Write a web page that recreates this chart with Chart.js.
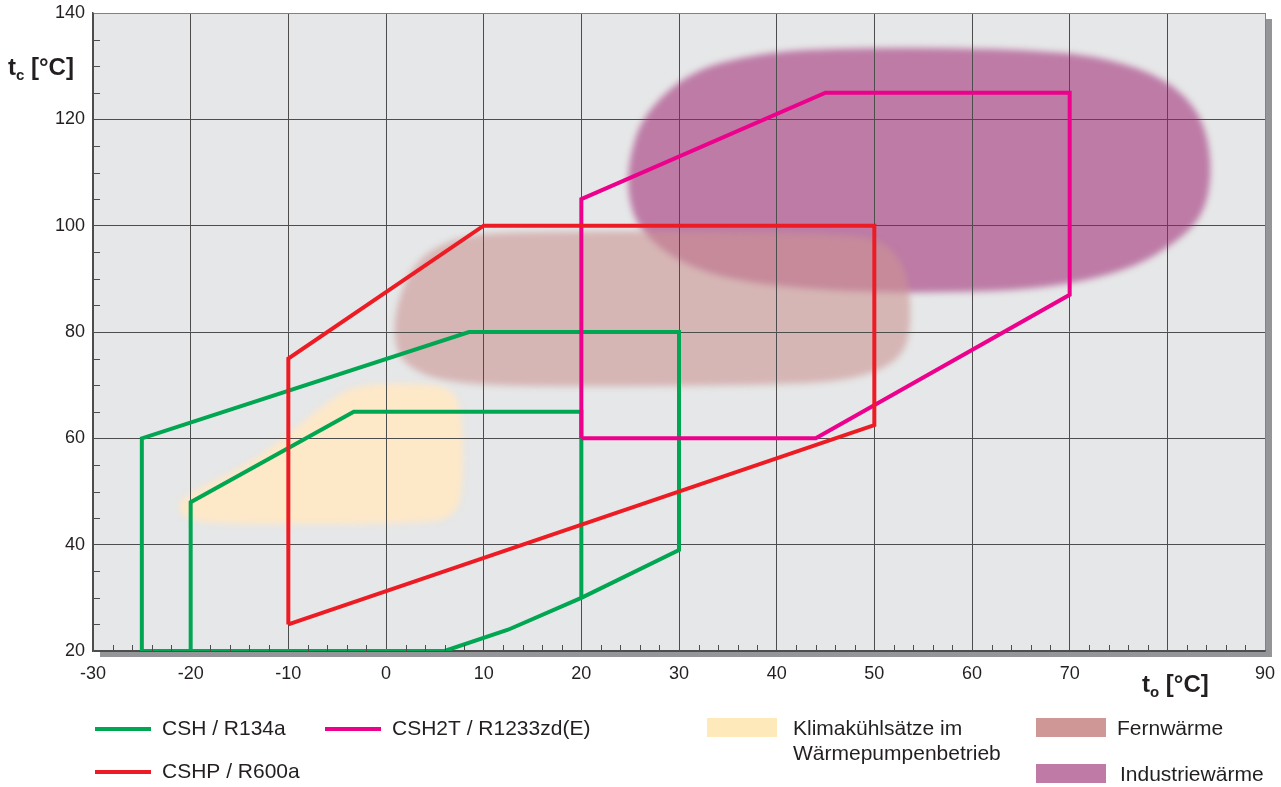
<!DOCTYPE html>
<html>
<head>
<meta charset="utf-8">
<script src="https://cdn.jsdelivr.net/npm/chart.js@4/dist/chart.umd.min.js"></script>
<style>
  html, body { margin: 0; padding: 0; background: #fff; }
  #wrap { position: relative; width: 1281px; height: 787px; }
</style>
</head>
<body>
<div id="wrap"><canvas id="c"></canvas></div>
<script>
// operating envelopes, points as [t_o, t_c]
const cshOuter = [[-25, 20], [-25, 60], [8.5, 80], [30, 80], [30, 39], [20, 30], [12.5, 24], [6, 20], [-25, 20]];
const cshInner = [[20, 30], [20, 65], [-3.3, 65], [-20, 48], [-20, 20]];
const cshp = [[-10, 25], [-10, 75], [10, 100], [50, 100], [50, 62.5], [-10, 25]];
const csh2t = [[20, 60], [20, 105], [45, 125], [70, 125], [70, 87], [44, 60], [20, 60]];

// application areas (outline of the soft blobs)
const industrie = [[24.8, 112], [26.3, 121], [31.3, 129.3], [38, 132.3], [44, 133.2], [55, 133.5], [67, 133], [74, 131.5],
  [80, 127.5], [83.5, 121], [84.6, 112], [84, 103], [81.5, 97.5], [76, 91.5], [67, 88], [55, 87.3], [45, 87.8],
  [36, 89.5], [30, 93], [26, 99], [24.8, 105]];
const fernwaerme = [[1, 85], [3, 93.5], [7, 97.8], [12, 98.8], [30, 99], [48, 98.5], [51.5, 96.5], [53.5, 91],
  [53.8, 80], [52.5, 74.5], [48, 71], [40, 70], [15, 69.7], [6, 70.5], [2, 73.5], [0.8, 78]];
const klima = [[-21.4, 47], [-20.5, 49.5], [-13, 56], [-5, 68.5], [-2, 70.2], [4, 70.3], [6.5, 69.5], [7.8, 66],
  [7.9, 50], [7, 45.5], [4.5, 44], [-17, 43.8], [-20.5, 44.8]];

const xMin = -30, xMax = 90, xStep = 10;
const yMin = 20, yMax = 140, yStep = 20;

const FONT = '"Liberation Sans", Arial, Helvetica, sans-serif';
const TXT = '#231f20';
const GREEN = '#00a651', RED = '#ed1c24', MAGENTA = '#ec008c';

const toPts = a => a.map(p => ({ x: p[0], y: p[1] }));

function lineDs(label, pts, color, order) {
  return { label, data: toPts(pts), borderColor: color, backgroundColor: color, borderWidth: 4,
    showLine: true, pointRadius: 0, fill: false, order, borderJoinStyle: 'miter', borderCapStyle: 'butt' };
}
function blobDs(label, pts, color) {
  return { label, data: toPts(pts), showLine: false, pointRadius: 0, blob: color, order: 10 };
}

// smooth closed path through the blob outline, placed with the chart's scales
function blobPath(ctx, pts) {
  const n = pts.length;
  const mid = (p, q) => [(p.x + q.x) / 2, (p.y + q.y) / 2];
  let m = mid(pts[n - 1], pts[0]);
  ctx.beginPath();
  ctx.moveTo(m[0], m[1]);
  for (let k = 0; k < n; k++) {
    const p = pts[k], q = pts[(k + 1) % n];
    m = mid(p, q);
    ctx.quadraticCurveTo(p.x, p.y, m[0], m[1]);
  }
  ctx.closePath();
}

const framePlugin = {
  id: 'frame',
  beforeDraw(chart) {
    const { ctx, chartArea: a } = chart;
    ctx.save();
    ctx.fillStyle = '#939598';
    ctx.fillRect(a.left + 7, a.top + 6, a.width, a.height);
    ctx.fillStyle = '#e6e7e8';
    ctx.fillRect(a.left, a.top, a.width, a.height);
    ctx.filter = 'blur(3px)';
    chart.data.datasets.forEach((ds, i) => {
      if (!ds.blob) return;
      blobPath(ctx, chart.getDatasetMeta(i).data);
      ctx.fillStyle = ds.blob;
      ctx.fill();
    });
    ctx.restore();
  },
  afterDraw(chart) {
    const { ctx, chartArea: a, scales } = chart;
    ctx.save();
    // minor ticks
    ctx.strokeStyle = '#4d4d4d';
    ctx.lineWidth = 1;
    ctx.beginPath();
    for (let v = xMin + 2; v < xMax; v += 2) {
      if (v % xStep === 0) continue;
      const px = Math.round(scales.x.getPixelForValue(v)) + 0.5;
      ctx.moveTo(px, a.bottom); ctx.lineTo(px, a.bottom - 6);
    }
    for (let v = yMin + 5; v < yMax; v += 5) {
      if (v % yStep === 0) continue;
      const py = Math.round(scales.y.getPixelForValue(v)) + 0.5;
      ctx.moveTo(a.left, py); ctx.lineTo(a.left + 7, py);
    }
    ctx.stroke();

    // axis titles with subscripts
    ctx.fillStyle = TXT;
    ctx.textBaseline = 'alphabetic';
    ctx.textAlign = 'left';
    const title = (x, y, main, sub) => {
      ctx.font = 'bold 24px ' + FONT;
      ctx.fillText(main, x, y);
      let w = ctx.measureText(main).width;
      ctx.font = 'bold 15px ' + FONT;
      ctx.fillText(sub, x + w, y + 5);
      w += ctx.measureText(sub).width;
      ctx.font = 'bold 24px ' + FONT;
      ctx.fillText(' [°C]', x + w, y);
    };
    title(8, 75, 't', 'c');
    title(1142, 692, 't', 'o');

    // legend
    ctx.font = '21px ' + FONT;
    ctx.textBaseline = 'middle';
    ctx.lineWidth = 4;
    const lineItem = (x, y, color, text) => {
      ctx.strokeStyle = color;
      ctx.beginPath(); ctx.moveTo(x, y); ctx.lineTo(x + 56, y); ctx.stroke();
      ctx.fillText(text, x + 67, y);
    };
    lineItem(95, 729, GREEN, 'CSH / R134a');
    lineItem(95, 772, RED, 'CSHP / R600a');
    lineItem(325, 729, MAGENTA, 'CSH2T / R1233zd(E)');
    const boxItem = (x, y, color, lines, tx) => {
      ctx.fillStyle = color;
      ctx.fillRect(x, y, 70, 19);
      ctx.fillStyle = TXT;
      lines.forEach((t, k) => ctx.fillText(t, tx, y + 11 + k * 25));
    };
    boxItem(707, 718, '#fde9b9', ['Klimakühlsätze im', 'Wärmepumpenbetrieb'], 793);
    boxItem(1036, 718, '#d09797', ['Fernwärme'], 1117);
    boxItem(1036, 764, '#bf7aa6', ['Industriewärme'], 1120);
    ctx.restore();
  }
};

const gridColor = edge => ctx => (ctx.tick && ctx.tick.value === edge ? '#808285' : '#4d4d4d');

new Chart(document.getElementById('c'), {
  type: 'scatter',
  data: {
    datasets: [
      lineDs('CSHP / R600a', cshp, RED, 0),
      lineDs('CSH2T / R1233zd(E)', csh2t, MAGENTA, 1),
      lineDs('CSH / R134a', cshOuter, GREEN, 2),
      lineDs('CSH / R134a', cshInner, GREEN, 2),
      blobDs('Industriewärme', industrie, '#bd7ba6'),
      blobDs('Fernwärme', fernwaerme, 'rgba(203,148,147,0.6)'),
      blobDs('Klimakühlsätze im Wärmepumpenbetrieb', klima, '#fde8c8')
    ]
  },
  options: {
    responsive: true,
    maintainAspectRatio: false,
    animation: false,
    events: [],
    layout: { padding: { top: 13, right: 16, left: 0, bottom: 0 } },
    plugins: { legend: { display: false }, tooltip: { enabled: false } },
    scales: {
      x: {
        type: 'linear', min: xMin, max: xMax,
        ticks: { stepSize: xStep, padding: 12, color: TXT, font: { size: 18, family: FONT },
          callback: v => (v === 80 ? '' : v) },
        grid: { color: gridColor(xMax), lineWidth: 1, drawTicks: false },
        border: { color: '#4d4d4d', width: 1.5 },
        afterFit: s => { s.height = 136; s.paddingLeft = 0; s.paddingRight = 0; }
      },
      y: {
        type: 'linear', min: yMin, max: yMax,
        ticks: { stepSize: yStep, padding: 8, color: TXT, font: { size: 18, family: FONT } },
        grid: { color: gridColor(yMax), lineWidth: 1, drawTicks: false },
        border: { color: '#4d4d4d', width: 1.5 },
        afterFit: s => { s.width = 93; s.paddingTop = 0; s.paddingBottom = 0; }
      }
    }
  },
  plugins: [framePlugin]
});
</script>
</body>
</html>
